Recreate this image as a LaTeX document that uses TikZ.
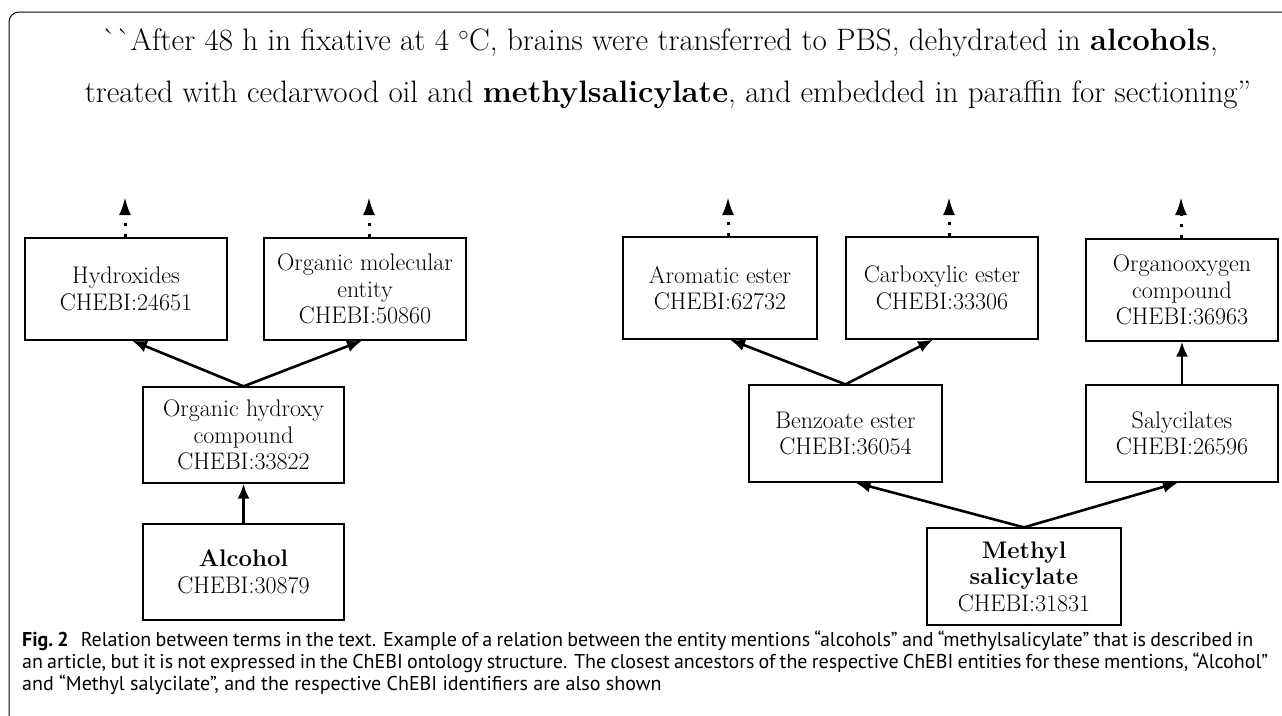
\documentclass[tikz,border=0pt]{standalone}
\usepackage{fontspec}
\newfontfamily\lmraw{Latin Modern Roman}[Ligatures=TeXOff]
\newfontfamily\capfont{PT Sans}
\usetikzlibrary{arrows.meta}
\begin{document}
\begin{tikzpicture}[x=1pt,y=-1pt,
  box/.style={draw, line width=1.3pt, rectangle, inner sep=0pt, align=center,
    font=\fontsize{24}{26.5}\selectfont},
  isa/.style={line width=2.6pt, -{Latex[length=15pt,width=12pt]}},
  more/.style={line width=3pt, dash pattern=on 3pt off 8pt, -{Latex[length=18pt,width=12pt]}},
  frame/.style={line width=1pt, rounded corners=10pt},
  title/.style={anchor=base, inner sep=0pt, font=\fontsize{31}{34}\selectfont}]
\useasboundingbox (0,0) rectangle (1282,715);
\draw[frame] (9,716) -- (9,12) -- (1283,12);

% title
\node[title] (t1) at (660,50) {{\lmraw\symbol{"60}\symbol{"60}}After 48 h in fixative at 4 $^{\circ}$C, brains were transferred to PBS, dehydrated in \textbf{alcohols},};
\node[title] (t2) at (668,102) {treated with cedarwood oil and \textbf{methylsalicylate}, and embedded in paraffin for sectioning”};

% left tree
\node[box, minimum width=202pt, minimum height=102pt] (hyd) at (126,289) {Hydroxides\\CHEBI:24651};
\node[box, minimum width=202pt, minimum height=102pt] (ome) at (365,289) {Organic molecular\\entity\\CHEBI:50860};
\node[box, minimum width=201pt, minimum height=96pt] (ohc) at (243.5,435) {Organic hydroxy\\compound\\CHEBI:33822};
\node[box, minimum width=201pt, minimum height=96pt] (alc) at (243.5,572) {\textbf{Alcohol}\\CHEBI:30879};

% right tree
\node[box, minimum width=194pt, minimum height=102pt] (ae) at (720,288) {Aromatic ester\\CHEBI:62732};
\node[box, minimum width=192pt, minimum height=102pt] (ce) at (942,288) {Carboxylic ester\\CHEBI:33306};
\node[box, minimum width=192pt, minimum height=102pt] (oo) at (1182,290) {Organooxygen\\compound\\CHEBI:36963};
\node[box, minimum width=193pt, minimum height=97pt] (be) at (845.5,433.5) {Benzoate ester\\CHEBI:36054};
\node[box, minimum width=192pt, minimum height=97pt] (sal) at (1182,433.5) {Salycilates\\CHEBI:26596};
\node[box, minimum width=194pt, minimum height=97pt] (ms) at (1024,576.5) {\textbf{Methyl}\\\textbf{salicylate}\\CHEBI:31831};

% is-a arrows
\draw[isa] (ohc.north) -- ([xshift=6pt]hyd.south);
\draw[isa] (ohc.north) -- ([xshift=-3pt]ome.south);
\draw[isa] (alc.north) -- (ohc.south);
\draw[isa] (be.north) -- ([xshift=10pt]ae.south);
\draw[isa] (be.north) -- ([xshift=-9pt]ce.south);
\draw[isa] (sal.north) -- (oo.south);
\draw[isa] (ms.north) -- ([xshift=10pt]be.south);
\draw[isa] (ms.north) -- ([xshift=-4pt]sal.south);

% further ancestors
\coordinate (hydup) at (125,197);
\coordinate (omeup) at (369,197);
\coordinate (aeup) at (728,197);
\coordinate (ceup) at (949,197);
\coordinate (ooup) at (1181,197);
\draw[more] (hydup |- hyd.north) -- (hydup);
\draw[more] (omeup |- ome.north) -- (omeup);
\draw[more] (aeup |- ae.north) -- (aeup);
\draw[more] (ceup |- ce.north) -- (ceup);
\draw[more] (ooup |- oo.north) -- (ooup);

% caption
\node[anchor=base west, inner sep=0pt, font=\capfont\fontsize{20}{21.8}\selectfont] (cap) at (22,690)
 {\vbox{\hbox to 1231pt{\textbf{Fig.~2}\hspace{0.6em}Relation between terms in the text. Example of a relation between the entity mentions “alcohols” and “methylsalicylate” that is described in}%
 \hbox to 1246pt{an article, but it is not expressed in the ChEBI ontology structure. The closest ancestors of the respective ChEBI entities for these mentions, “Alcohol”}%
 \hbox{and “Methyl salycilate”, and the respective ChEBI identifiers are also shown}}};
\end{tikzpicture}
\end{document}
